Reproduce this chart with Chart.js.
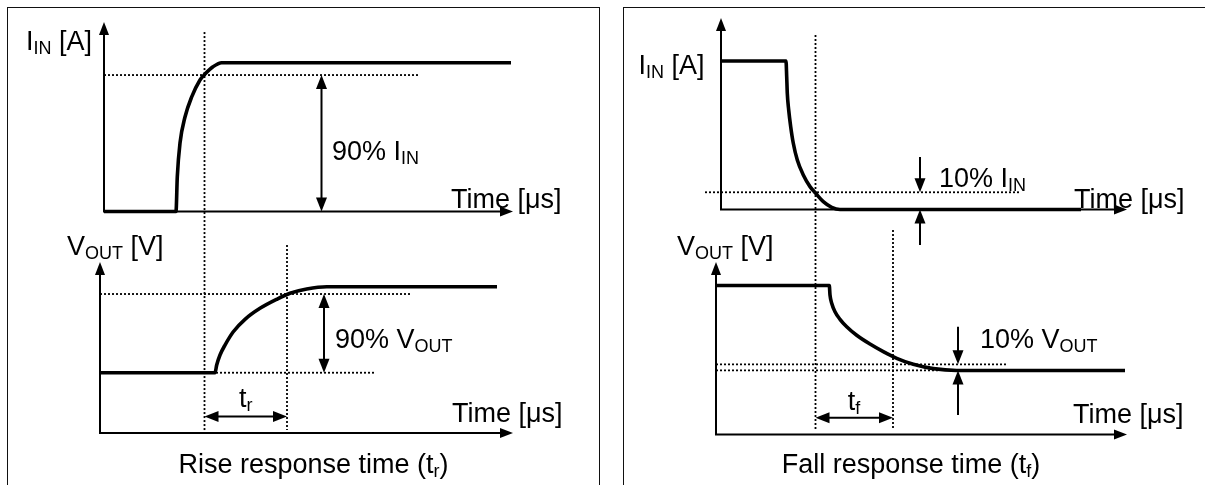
<!DOCTYPE html>
<html><head><meta charset="utf-8">
<script src="https://cdn.jsdelivr.net/npm/chart.js@4.4.1/dist/chart.umd.min.js"></script>
<style>
html,body{margin:0;padding:0;background:#fff;overflow:hidden;}
#wrap{position:relative;width:1205px;height:485px;overflow:hidden;background:#fff;}
.panel{position:absolute;border:1.5px solid #111;box-sizing:border-box;}
#pl{left:7px;top:7px;width:593px;height:540px;}
#pr{left:622.5px;top:6.5px;width:660px;height:540px;}
canvas{position:absolute;left:0;top:0;}
</style></head><body>
<div id="wrap"><div class="panel" id="pl"></div><div class="panel" id="pr"></div><canvas id="c" width="1205" height="485"></canvas></div>
<script>
// ---------- data (time in µs-like units, amplitudes normalised) ----------
// Rise response: input current
const riseCurT = [0, 7.2, 7.33, 7.6, 8.1, 8.77, 9.6, 10.1, 10.9, 11.77, 40.7];
const riseCurI = [0, 0, 0.234, 0.46, 0.635, 0.77, 0.884, 0.924, 0.973, 1.0, 1.0];
// Rise response: output voltage
const riseVoltT = [-0.4, 11.1, 11.27, 11.6, 12.1, 12.93, 14.1, 15.6, 17.27, 18.6, 20.27, 22.27, 39.3];
const riseVoltV = [0.412, 0.412, 0.465, 0.533, 0.601, 0.692, 0.777, 0.852, 0.914, 0.955, 0.984, 1.0, 1.0];
// Fall response: input current
const fallCurT = [0, 6.5, 6.57, 6.63, 6.77, 6.97, 7.23, 7.63, 8.23, 8.9, 9.47, 10.23, 11.07, 11.9, 36.0];
const fallCurI = [1, 1, 0.894, 0.782, 0.67, 0.558, 0.446, 0.333, 0.232, 0.154, 0.109, 0.053, 0.015, 0, 0];
// Fall response: output voltage
const fallVoltT = [-0.5, 10.83, 10.9, 11.07, 11.4, 11.9, 12.57, 13.57, 14.9, 16.23, 17.57, 19.23, 21.23, 23.57, 40.4];
const fallVoltV = [1, 1, 0.936, 0.881, 0.824, 0.773, 0.723, 0.666, 0.607, 0.556, 0.511, 0.471, 0.442, 0.43, 0.43];

// reference levels / times
const riseLevels = [0.917, 0.95, 0.412];   // 90% I_IN, 90% V_OUT, V_OUT start
const riseTimes  = [10.05, 18.3];          // start / end of t_r
const fallLevels = [0.116, 0.471, 0.43];   // 10% I_IN, 10% V_OUT, V_OUT end
const fallTimes  = [9.45, 17.2];           // start / end of t_f

// labels: [text, xAxis, yAxis, x, y, align]
const labelsText = [
  ['I_{IN} [A]', 'xL', 'yIL', -1.2, 1.153, 'right'],
  ['90% I_{IN}', 'xL', 'yIL', 22.8, 0.413, 'left'],
  ['Time [\u03bcs]', 'xL', 'yIL', 34.7, 0.09, 'left'],
  ['V_{OUT} [V]', 'xL', 'yVL', -3.7, 1.285, 'left'],
  ['90% V_{OUT}', 'xL', 'yVL', 23.1, 0.649, 'left'],
  ['t_{r}', 'xL', 'yVL', 14.17, 0.246, 'center'],
  ['Time [\u03bcs]', 'xL', 'yVL', 34.8, 0.144, 'left'],
  ['Rise response time (t_{r})', 'xL', 'yVL', 20.95, -0.205, 'center'],
  ['I_{IN} [A]', 'xR', 'yIR', -8.24, 0.98, 'left'],
  ['10% I_{IN}', 'xR', 'yIR', 21.8, 0.219, 'left'],
  ['Time [\u03bcs]', 'xR', 'yIR', 35.3, 0.077, 'left'],
  ['V_{OUT} [V]', 'xR', 'yVR', -4.4, 1.272, 'left'],
  ['10% V_{OUT}', 'xR', 'yVR', 25.9, 0.648, 'left'],
  ['t_{f}', 'xR', 'yVR', 13.3, 0.232, 'center'],
  ['Time [\u03bcs]', 'xR', 'yVR', 35.2, 0.144, 'left'],
  ['Fall response time (t_{f})', 'xR', 'yVR', 19.0, -0.191, 'center']
];

// axes: [xAxis, yAxis, originT, originV, yTip, xTip]
const axesDef = [
  ['xL', 'yIL', 0, 0, 1.274, 40.9],
  ['xL', 'yVL', -0.4, 0, 1.169, 40.9],
  ['xR', 'yIR', 0, 0, 1.29, 40.6],
  ['xR', 'yVR', -0.5, 0, 1.158, 40.6]
];
// dimension arrows: [xAxis, yAxis, x1, y1, x2, y2, headAtStart, headAtEnd]
const dimArrows = [
  ['xL', 'yIL', 21.75, 0, 21.75, riseLevels[0], true, true],
  ['xL', 'yVL', 22, riseLevels[2], 22, riseLevels[1], true, true],
  ['xL', 'yVL', riseTimes[0], 0.113, riseTimes[1], 0.113, true, true],
  ['xR', 'yIR', 19.9, 0.354, 19.9, fallLevels[0], false, true],
  ['xR', 'yIR', 19.9, -0.239, 19.9, 0, false, true],
  ['xR', 'yVR', 23.7, 0.723, 23.7, fallLevels[1], false, true],
  ['xR', 'yVR', 23.7, 0.131, 23.7, fallLevels[2], false, true],
  ['xR', 'yVR', fallTimes[0], 0.113, fallTimes[1], 0.113, true, true]
];

// ---------- layout ----------
const W = 1205, H = 485;
const FONT = '"Liberation Sans", Arial, Helvetica, sans-serif';
const FS = 27, SUBFS = 18, SUBOFF = 4;
function hRange(originPx, ppu) { return { min: -originPx / ppu, max: (W - originPx) / ppu }; }
function vRange(originPx, ppu) { return { min: (originPx - H) / ppu, max: originPx / ppu }; }

function pts(ts, vs) { return ts.map((t, i) => ({ x: t, y: vs[i] })); }
function curve(xID, yID, ts, vs) {
  return { data: pts(ts, vs), xAxisID: xID, yAxisID: yID, showLine: true, borderColor: '#000',
    borderWidth: 3.6, pointRadius: 0, cubicInterpolationMode: 'monotone', fill: false,
    borderJoinStyle: 'round', borderCapStyle: 'butt' };
}
function guide(xID, yID, ts, vs) {
  return { data: pts(ts, vs), xAxisID: xID, yAxisID: yID, showLine: true, borderColor: '#000',
    borderWidth: 1.8, borderDash: [2, 2], pointRadius: 0, tension: 0, fill: false };
}

const datasets = [
  curve('xL', 'yIL', riseCurT, riseCurI),
  curve('xL', 'yVL', riseVoltT, riseVoltV),
  curve('xR', 'yIR', fallCurT, fallCurI),
  curve('xR', 'yVR', fallVoltT, fallVoltV),
  guide('xL', 'yIL', [0, 31.5], [riseLevels[0], riseLevels[0]]),
  guide('xL', 'yIL', [riseTimes[0], riseTimes[0]], [1.206, -1.482]),
  guide('xL', 'yVL', [-0.4, 30.7], [riseLevels[1], riseLevels[1]]),
  guide('xL', 'yVL', [11.2, 27.1], [riseLevels[2], riseLevels[2]]),
  guide('xL', 'yVL', [riseTimes[1], riseTimes[1]], [1.285, 0.02]),
  guide('xR', 'yIR', [-1.6, 29.8], [fallLevels[0], fallLevels[0]]),
  guide('xR', 'yIR', [fallTimes[0], fallTimes[0]], [1.175, -1.485]),
  guide('xR', 'yVR', [-0.5, 28.6], [fallLevels[1], fallLevels[1]]),
  guide('xR', 'yVR', [-0.5, 21.9], [fallLevels[2], fallLevels[2]]),
  guide('xR', 'yVR', [fallTimes[1], fallTimes[1]], [1.372, 0.03])
];

function head(ctx, tx, ty, dx, dy, len, half) {
  ctx.beginPath();
  ctx.moveTo(tx, ty);
  ctx.lineTo(tx - dx * len - dy * half, ty - dy * len + dx * half);
  ctx.lineTo(tx - dx * len + dy * half, ty - dy * len - dx * half);
  ctx.closePath();
  ctx.fill();
}
function arrow(ctx, x1, y1, x2, y2, hs, he, len, half, lw) {
  const a = Math.atan2(y2 - y1, x2 - x1), ux = Math.cos(a), uy = Math.sin(a);
  let sx = x1, sy = y1, ex = x2, ey = y2;
  if (hs) { sx += ux * (len - 2); sy += uy * (len - 2); }
  if (he) { ex -= ux * (len - 2); ey -= uy * (len - 2); }
  ctx.lineWidth = lw;
  ctx.beginPath(); ctx.moveTo(sx, sy); ctx.lineTo(ex, ey); ctx.stroke();
  if (he) head(ctx, x2, y2, ux, uy, len, half);
  if (hs) head(ctx, x1, y1, -ux, -uy, len, half);
}
function parseRich(s) {
  const out = []; const re = /_\{([^}]*)\}/g; let last = 0, m;
  while ((m = re.exec(s))) {
    if (m.index > last) out.push({ t: s.slice(last, m.index), sub: false });
    out.push({ t: m[1], sub: true }); last = re.lastIndex;
  }
  if (last < s.length) out.push({ t: s.slice(last), sub: false });
  return out;
}
function drawRich(ctx, s, x, cy, align) {
  const segs = parseRich(s);
  let w = 0;
  segs.forEach(g => { ctx.font = (g.sub ? SUBFS : FS) + 'px ' + FONT; g.w = ctx.measureText(g.t).width; w += g.w; });
  let cx = align === 'center' ? x - w / 2 : align === 'right' ? x - w : x;
  const base = cy + FS * 0.36;
  ctx.textAlign = 'left'; ctx.textBaseline = 'alphabetic';
  segs.forEach(g => {
    ctx.font = (g.sub ? SUBFS : FS) + 'px ' + FONT;
    ctx.fillText(g.t, cx, base + (g.sub ? SUBOFF : 0));
    cx += g.w;
  });
}

const schematic = {
  id: 'schematic',
  beforeDatasetsDraw(chart) {
    const ctx = chart.ctx, sc = chart.scales;
    ctx.save();
    ctx.strokeStyle = '#000'; ctx.fillStyle = '#000'; ctx.lineCap = 'butt'; ctx.lineJoin = 'miter';
    axesDef.forEach(([xa, ya, t0, v0, vTip, tTip]) => {
      const X = sc[xa], Y = sc[ya];
      const ox = X.getPixelForValue(t0), oy = Y.getPixelForValue(v0);
      const ty = Y.getPixelForValue(vTip), tx = X.getPixelForValue(tTip);
      const len = 13, half = 5;
      ctx.lineWidth = 2;
      ctx.beginPath(); ctx.moveTo(ox, ty + len - 2); ctx.lineTo(ox, oy); ctx.lineTo(tx - len + 2, oy); ctx.stroke();
      head(ctx, ox, ty, 0, -1, len, half);
      head(ctx, tx, oy, 1, 0, len, half);
    });
    dimArrows.forEach(([xa, ya, x1, y1, x2, y2, hs, he]) => {
      const X = sc[xa], Y = sc[ya];
      arrow(ctx, X.getPixelForValue(x1), Y.getPixelForValue(y1), X.getPixelForValue(x2), Y.getPixelForValue(y2), hs, he, 14, 5.5, 2);
    });
    ctx.restore();
  },
  afterDatasetsDraw(chart) {
    const ctx = chart.ctx, sc = chart.scales;
    ctx.save(); ctx.fillStyle = '#000';
    labelsText.forEach(([s, xa, ya, x, y, al]) => {
      drawRich(ctx, s, sc[xa].getPixelForValue(x), sc[ya].getPixelForValue(y), al);
    });
    ctx.restore();
  }
};

new Chart(document.getElementById('c'), {
  type: 'scatter',
  data: { datasets },
  options: {
    responsive: false, animation: false, devicePixelRatio: 1,
    layout: { padding: 0 },
    plugins: { legend: { display: false }, tooltip: { enabled: false }, title: { display: false } },
    events: [],
    scales: {
      xL: Object.assign({ type: 'linear', position: 'bottom', display: false }, hRange(104, 10)),
      xR: Object.assign({ type: 'linear', position: 'bottom', display: false }, hRange(721, 10)),
      yIL: Object.assign({ type: 'linear', position: 'left', display: false }, vRange(211.5, 148.8)),
      yVL: Object.assign({ type: 'linear', position: 'left', display: false }, vRange(433, 146.3)),
      yIR: Object.assign({ type: 'linear', position: 'left', display: false }, vRange(209.5, 148.5)),
      yVR: Object.assign({ type: 'linear', position: 'left', display: false }, vRange(434.5, 149))
    }
  },
  plugins: [schematic]
});
</script></body></html>
